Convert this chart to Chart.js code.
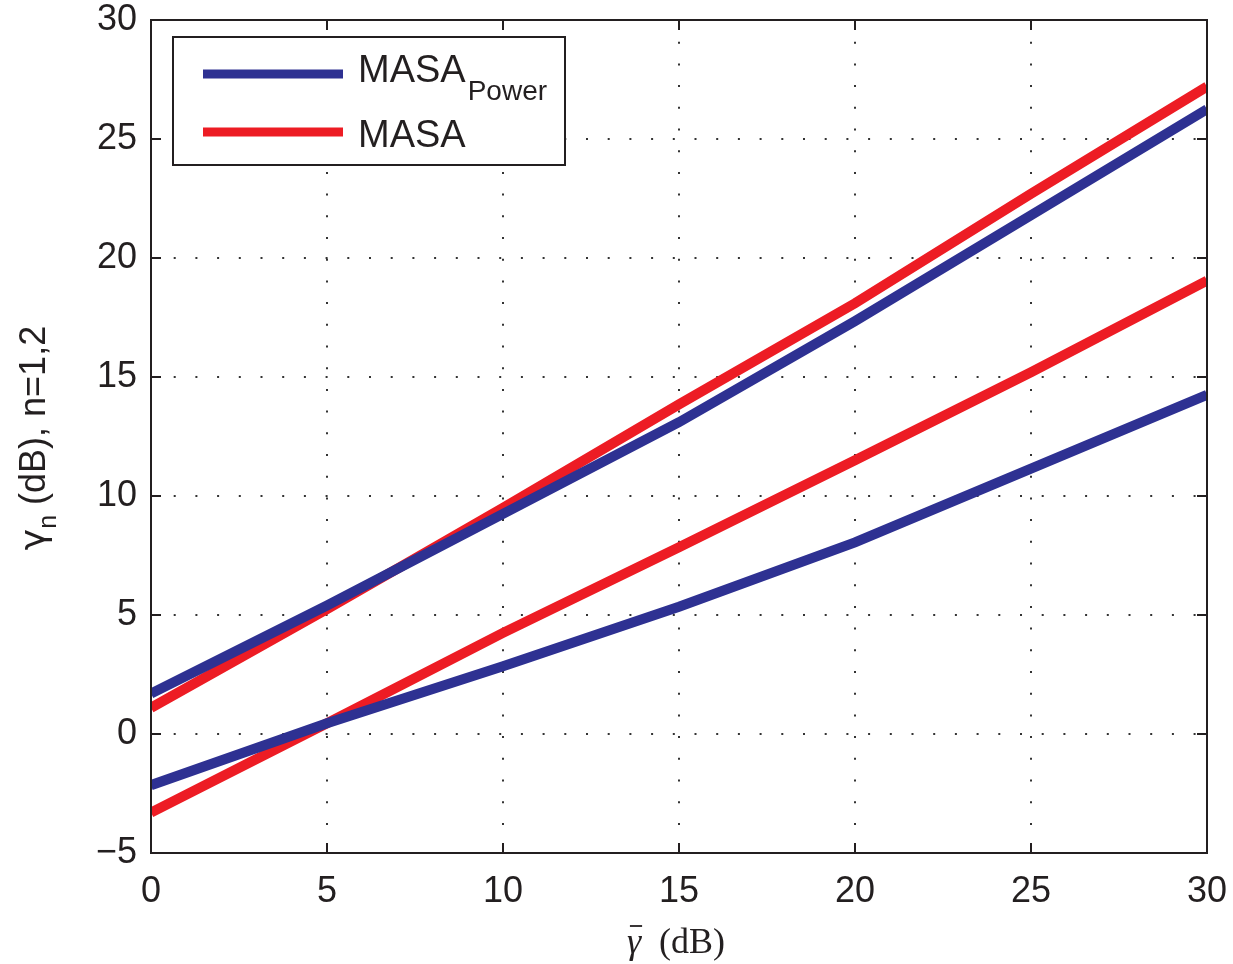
<!DOCTYPE html>
<html>
<head>
<meta charset="utf-8">
<script src="https://cdn.jsdelivr.net/npm/chart.js@4"></script>
<style>
  html, body { margin: 0; padding: 0; background: #fff; }
  #wrap { width: 1233px; height: 964px; position: relative; }
</style>
</head>
<body>
<div id="wrap"><canvas id="gammaChart"></canvas></div>
<script>
// average SNR (dB) on the x axis
const snrDb = [0, 5, 10, 15, 20, 25, 30];
// MASA_Power thresholds, n=1 (upper) and n=2 (lower)
const powerN1 = [1.7, 5.4, 9.25, 13.1, 17.35, 21.8, 26.25];
const powerN2 = [-2.15, 0.45, 2.85, 5.35, 8.05, 11.15, 14.25];
// MASA thresholds, n=1 (upper) and n=2 (lower)
const masaN1 = [1.1, 5.25, 9.5, 13.85, 18.1, 22.7, 27.2];
const masaN2 = [-3.3, 0.45, 4.25, 7.85, 11.5, 15.2, 19.05];

const yTicks = [-5, 0, 5, 10, 15, 20, 25, 30];

const BLUE = '#2e3192';
const RED = '#ed1c24';
const INK = '#231f20';
const SANS = '"Liberation Sans", Arial, sans-serif';
const SERIF = '"Liberation Serif", "DejaVu Serif", serif';

const toPoints = (vals) => vals.map((v, i) => ({ x: snrDb[i], y: v }));

// box, inward ticks, legend and axis titles (MATLAB look)---------------
const matlabFrame = {
  id: 'matlabFrame',
  afterDraw(chart) {
    const { ctx, chartArea: a, scales } = chart;
    const x = scales.x, y = scales.y;
    ctx.save();
    ctx.strokeStyle = INK;
    ctx.lineWidth = 2;
    ctx.strokeRect(a.left, a.top, a.right - a.left, a.bottom - a.top);

    ctx.beginPath();
    x.ticks.forEach(t => {
      const px = x.getPixelForValue(t.value);
      ctx.moveTo(px, a.bottom); ctx.lineTo(px, a.bottom - 10);
      ctx.moveTo(px, a.top); ctx.lineTo(px, a.top + 10);
    });
    y.ticks.forEach(t => {
      const py = y.getPixelForValue(t.value);
      ctx.moveTo(a.left, py); ctx.lineTo(a.left + 10, py);
      ctx.moveTo(a.right, py); ctx.lineTo(a.right - 10, py);
    });
    ctx.stroke();

    // legend
    ctx.fillStyle = '#fff';
    ctx.fillRect(173, 37, 392, 128);
    ctx.strokeRect(173, 37, 392, 128);
    ctx.lineWidth = 9;
    ctx.lineCap = 'butt';
    ctx.strokeStyle = BLUE;
    ctx.beginPath(); ctx.moveTo(203, 74); ctx.lineTo(343, 74); ctx.stroke();
    ctx.strokeStyle = RED;
    ctx.beginPath(); ctx.moveTo(203, 132); ctx.lineTo(343, 132); ctx.stroke();
    ctx.fillStyle = INK;
    ctx.textAlign = 'left';
    ctx.textBaseline = 'alphabetic';
    ctx.font = '38px ' + SANS;
    ctx.fillText('MASA', 358, 82);
    const mw = ctx.measureText('MASA').width;
    ctx.fillText('MASA', 358, 147);
    ctx.font = '28px ' + SANS;
    ctx.fillText('Power', 358 + mw + 2, 100);

    // y title with subscript
    ctx.save();
    ctx.translate(45, 438);
    ctx.rotate(-Math.PI / 2);
    const big = '36px ' + SANS;
    const gam = '36px "DejaVu Sans", sans-serif';
    const small = '25px ' + SANS;
    ctx.font = gam;
    const w1 = ctx.measureText('\u03b3').width;
    ctx.font = big;
    const w3 = ctx.measureText(' (dB), n=1,2').width;
    ctx.font = small;
    const w2 = ctx.measureText('n').width;
    const sx = -(w1 + w2 + w3) / 2;
    ctx.font = gam;
    ctx.fillText('\u03b3', sx, 0);
    ctx.font = small;
    ctx.fillText('n', sx + w1, 11);
    ctx.font = big;
    ctx.fillText(' (dB), n=1,2', sx + w1 + w2, 0);
    ctx.restore();

    // x title: gamma-bar (dB)
    ctx.font = 'italic 36px ' + SERIF;
    const gw = ctx.measureText('\u03b3').width;
    ctx.font = '36px ' + SERIF;
    const rest = '  (dB)';
    const rw = ctx.measureText(rest).width;
    const x0 = 676 - (gw + rw) / 2;
    ctx.font = 'italic 36px ' + SERIF;
    ctx.fillText('\u03b3', x0, 953);
    ctx.font = '36px ' + SERIF;
    ctx.fillText(rest, x0 + gw, 953);
    ctx.lineWidth = 1.8;
    ctx.strokeStyle = INK;
    ctx.beginPath();
    ctx.moveTo(x0 + 3, 926); ctx.lineTo(x0 + gw + 1, 926);
    ctx.stroke();

    ctx.restore();
  }
};

const line = (vals, color, order) => ({
  data: toPoints(vals),
  borderColor: color,
  backgroundColor: color,
  borderWidth: 10,
  borderCapStyle: 'butt',
  pointRadius: 0,
  tension: 0,
  order: order
});

const ctx = document.getElementById('gammaChart').getContext('2d');
new Chart(ctx, {
  type: 'line',
  data: {
    datasets: [
      line(powerN1, BLUE, 0),
      line(masaN1, RED, 1),
      line(powerN2, BLUE, 2),
      line(masaN2, RED, 3)
    ]
  },
  options: {
    responsive: true,
    maintainAspectRatio: false,
    animation: false,
    layout: { padding: { left: 0, top: 20, right: 26, bottom: 0 } },
    plugins: {
      legend: { display: false },
      tooltip: { enabled: false }
    },
    scales: {
      x: {
        type: 'linear',
        min: 0,
        max: 30,
        afterFit: (s) => { s.height = 111; s.paddingLeft = 0; s.paddingRight = 0; },
        afterBuildTicks: (s) => { s.ticks = snrDb.map(v => ({ value: v })); },
        ticks: {
          color: INK,
          padding: 17,
          font: { family: SANS, size: 36 }
        },
        grid: { color: '#333', lineWidth: 2, drawTicks: false },
        border: { display: true, color: INK, width: 2, dash: [2, 19.7] }
      },
      y: {
        type: 'linear',
        min: -5,
        max: 30,
        afterFit: (s) => { s.width = 151; s.paddingTop = 0; s.paddingBottom = 0; },
        afterBuildTicks: (s) => { s.ticks = yTicks.map(v => ({ value: v })); },
        ticks: {
          color: INK,
          padding: 14,
          font: { family: SANS, size: 36 },
          callback: (v) => String(v).replace('-', '\u2212')
        },
        grid: { color: '#333', lineWidth: 2, drawTicks: false },
        border: { display: true, color: INK, width: 2, dash: [2, 19.7] }
      }
    }
  },
  plugins: [matlabFrame]
});
</script>
</body>
</html>
